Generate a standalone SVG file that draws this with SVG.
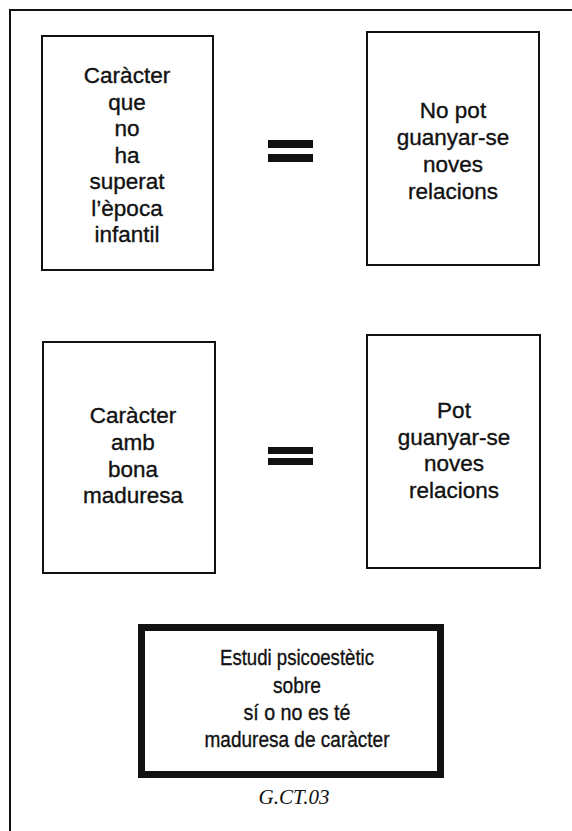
<svg xmlns="http://www.w3.org/2000/svg" width="572" height="831" viewBox="0 0 572 831">
<style>
.box{fill:#fff;stroke:#111;stroke-width:2}
.thick{fill:#fff;stroke:#111;stroke-width:7}
.t{font-family:"Liberation Sans",Arial,sans-serif;font-size:22.5px;fill:#111;stroke:#111;stroke-width:0.35;text-anchor:middle}
.t2{font-family:"Liberation Sans",Arial,sans-serif;font-size:22px;fill:#111;stroke:#111;stroke-width:0.35;text-anchor:middle}
.cap{font-family:"Liberation Serif","Times New Roman",serif;font-style:italic;font-size:21px;fill:#111;text-anchor:middle}
.eq{fill:#111}
</style>
<rect width="572" height="831" fill="#fff"/>
<path d="M10 831 V10 H572" fill="none" stroke="#111" stroke-width="2"/>
<g id="node1">
<rect class="box" x="42" y="36" width="171" height="234"/>
<text class="t"><tspan x="127" y="83">Caràcter</tspan><tspan x="127" y="109.5">que</tspan><tspan x="127" y="136">no</tspan><tspan x="127" y="162.5">ha</tspan><tspan x="127" y="189">superat</tspan><tspan x="127" y="215.5">l’època</tspan><tspan x="127" y="242">infantil</tspan></text>
</g>
<g id="node2">
<rect class="box" x="367" y="32" width="172" height="233"/>
<text class="t"><tspan x="453" y="118">No pot</tspan><tspan x="453" y="145">guanyar-se</tspan><tspan x="453" y="172">noves</tspan><tspan x="453" y="199">relacions</tspan></text>
</g>
<g id="node3">
<rect class="box" x="43" y="342" width="172" height="231"/>
<text class="t"><tspan x="133" y="423">Caràcter</tspan><tspan x="133" y="450">amb</tspan><tspan x="133" y="477">bona</tspan><tspan x="133" y="503">maduresa</tspan></text>
</g>
<g id="node4">
<rect class="box" x="367" y="335" width="173" height="233"/>
<text class="t"><tspan x="454" y="418">Pot</tspan><tspan x="454" y="445">guanyar-se</tspan><tspan x="454" y="471">noves</tspan><tspan x="454" y="498">relacions</tspan></text>
</g>
<g id="node5">
<rect class="thick" x="141.5" y="627.5" width="299" height="147"/>
<text class="t2" x="297" y="665" textLength="154" lengthAdjust="spacingAndGlyphs">Estudi psicoestètic</text>
<text class="t2" x="297" y="693" textLength="48" lengthAdjust="spacingAndGlyphs">sobre</text>
<text class="t2" x="297" y="720" textLength="107" lengthAdjust="spacingAndGlyphs">sí o no es té</text>
<text class="t2" x="297" y="747" textLength="185" lengthAdjust="spacingAndGlyphs">maduresa de caràcter</text>
</g>
<g id="connectors">
<rect class="eq" x="268" y="140" width="45" height="8"/>
<rect class="eq" x="268" y="154" width="45" height="8"/>
<rect class="eq" x="268" y="447" width="45" height="7"/>
<rect class="eq" x="268" y="458" width="45" height="7"/>
</g>
<text class="cap" x="294" y="804">G.CT.03</text>
</svg>
